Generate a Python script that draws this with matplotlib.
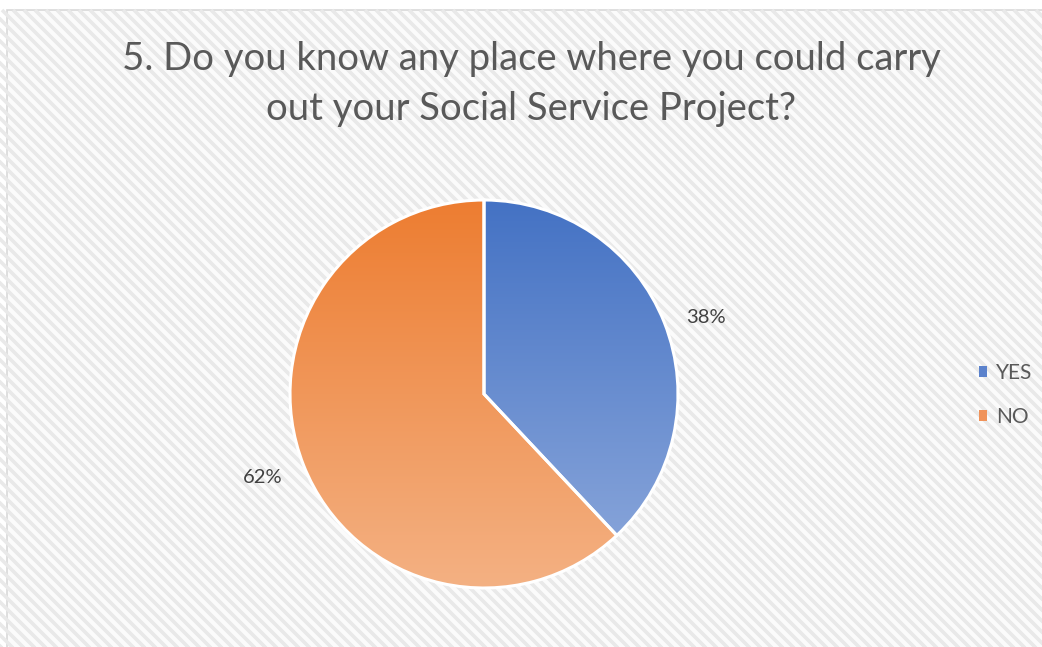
import numpy as np
import matplotlib.pyplot as plt
from matplotlib.patches import Patch, Rectangle
from matplotlib.colors import LinearSegmentedColormap

# data
labels = ['YES', 'NO']
shares = [38, 62]
top_colors = ['#4472C4', '#ED7D31']
bottom_colors = ['#8FAADC', '#F4B183']
title = '5. Do you know any place where you could carry\nout your Social Service Project?'

W, H = 1042, 647
fig = plt.figure(figsize=(W / 100, H / 100), dpi=100)
fig.patch.set_facecolor('white')

# striped chart-area background
bg = fig.add_axes([0, 0, 1, 1])
bg.set_xlim(0, W)
bg.set_ylim(H, 0)
bg.axis('off')
frame = Rectangle((7, 10), W, H, facecolor='#FBFBFB', edgecolor='#D9D9D9', lw=1.2)
bg.add_patch(frame)
for c in np.arange(-H, W + H, 11):
    bg.plot([c, c + H], [10, 10 + H], color='#E9E9E9', lw=2.6, solid_capstyle='butt',
            clip_path=frame)

# pie
cx, cy, r = 484, 394, 194
ax = fig.add_axes([(cx - r) / W, (H - cy - r) / H, 2 * r / W, 2 * r / H])
wedges, texts, autotexts = ax.pie(shares, startangle=90, counterclock=False,
                                  autopct='%.0f%%', pctdistance=1.21,
                                  wedgeprops=dict(edgecolor='white', linewidth=2.2),
                                  textprops=dict(color='#404040', fontsize=14.5, family='Lato'))
# label spots as Excel puts them
for t, pos in zip(autotexts, [(1.144, 0.392), (-1.139, -0.428)]):
    t.set_position(pos)
grad = np.linspace(0, 1, 256).reshape(-1, 1)
for w, c0, c1 in zip(wedges, top_colors, bottom_colors):
    cmap = LinearSegmentedColormap.from_list('g', [c0, c1])
    w.set_facecolor('none')
    im = ax.imshow(grad, cmap=cmap, extent=(-1, 1, -1, 1), origin='upper',
                   aspect='auto', zorder=0.5)
    im.set_clip_path(w)
ax.set_xlim(-1, 1)
ax.set_ylim(-1, 1)
ax.set_aspect('auto')
ax.axis('off')

fig.text(0.5096, (H - 84) / H, title, ha='center', va='center', fontsize=27.5,
         color='#595959', family='Lato', linespacing=1.5)

handles = [Patch(facecolor=c, edgecolor='none') for c in ['#5B82CC', '#F0935A']]
fig.legend(handles, labels, loc='center left', bbox_to_anchor=(979 / W, (H - 395) / H),
           frameon=False, handlelength=0.4, handleheight=0.4, borderpad=0,
           borderaxespad=0, handletextpad=0.4, labelspacing=1.15, labelcolor='#595959',
           prop=dict(family='Lato', size=15))

fig.savefig('out.png', dpi=100)
